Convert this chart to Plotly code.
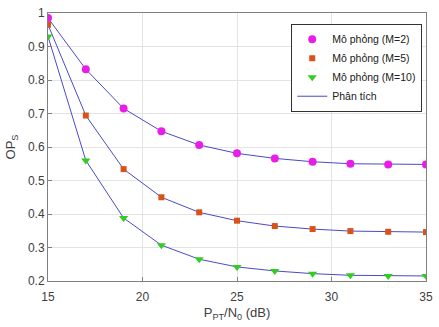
import plotly.graph_objects as go

snr = [15, 17, 19, 21, 23, 25, 27, 29, 31, 33, 35]
op_m2 = [0.985, 0.832, 0.715, 0.647, 0.606, 0.581, 0.566, 0.556, 0.550, 0.548, 0.548]
op_m5 = [0.965, 0.694, 0.534, 0.450, 0.405, 0.380, 0.364, 0.355, 0.349, 0.347, 0.346]
op_m10 = [0.930, 0.560, 0.388, 0.307, 0.265, 0.242, 0.230, 0.222, 0.217, 0.215, 0.215]

sim_names = ["Mô phỏng (M=2)", "Mô phỏng (M=5)", "Mô phỏng (M=10)"]
ana_name = "Phân tích"

line_color = "#4a4ac8"
fig = go.Figure()

for i, ys in enumerate([op_m2, op_m5, op_m10]):
    fig.add_trace(go.Scatter(
        x=snr, y=ys, mode="lines", name=ana_name,
        line=dict(color=line_color, width=1),
        legendgroup="ana", showlegend=(i == 0), legendrank=4))

styles = [
    dict(symbol="circle", color="#e81ee8", size=8),
    dict(symbol="square", color="#d95319", size=6),
    dict(symbol="triangle-down", color="#33cc22", size=8),
]
for i, ys in enumerate([op_m2, op_m5, op_m10]):
    fig.add_trace(go.Scatter(
        x=snr, y=ys, mode="markers", name=sim_names[i],
        marker=dict(symbol=styles[i]["symbol"], color=styles[i]["color"],
                    size=styles[i]["size"], line=dict(width=0)),
        legendrank=i + 1))

axis_common = dict(
    showgrid=True, gridcolor="#e3e3e3", gridwidth=1,
    showline=True, linecolor="#808080", linewidth=1, mirror=True,
    ticks="inside", ticklen=4, tickcolor="#808080",
    tickfont=dict(family="Liberation Sans, Arial", size=12, color="#404040"),
    zeroline=False,
)

fig.update_layout(
    width=439, height=327,
    margin=dict(l=48, r=6, t=8, b=46),
    paper_bgcolor="white", plot_bgcolor="white",
    font=dict(family="Liberation Sans, Arial", size=12, color="#404040"),
    xaxis=dict(range=[15, 35], tickvals=[15, 20, 25, 30, 35],
               ticklabelstandoff=5,
               title=dict(text="P<sub>PT</sub>/N<sub>0</sub> (dB)", standoff=4,
                          font=dict(size=13, color="#404040")),
               **axis_common),
    yaxis=dict(range=[0.2, 1.0], tickvals=[0.2, 0.3, 0.4, 0.5, 0.6, 0.7, 0.8, 0.9, 1.0],
               ticktext=["0.2", "0.3", "0.4", "0.5", "0.6", "0.7", "0.8", "0.9", "1"],
               title=dict(text="OP<sub>S</sub>", standoff=9,
                          font=dict(size=13, color="#404040")),
               **axis_common),
    legend=dict(x=0.99, y=0.96, xanchor="right", yanchor="top",
                bgcolor="white", bordercolor="#333333", borderwidth=1,
                font=dict(family="Liberation Sans, Arial", size=10.5, color="#202020"),
                tracegroupgap=0, itemwidth=30),
    showlegend=True,
)

fig.write_html("out.html")
